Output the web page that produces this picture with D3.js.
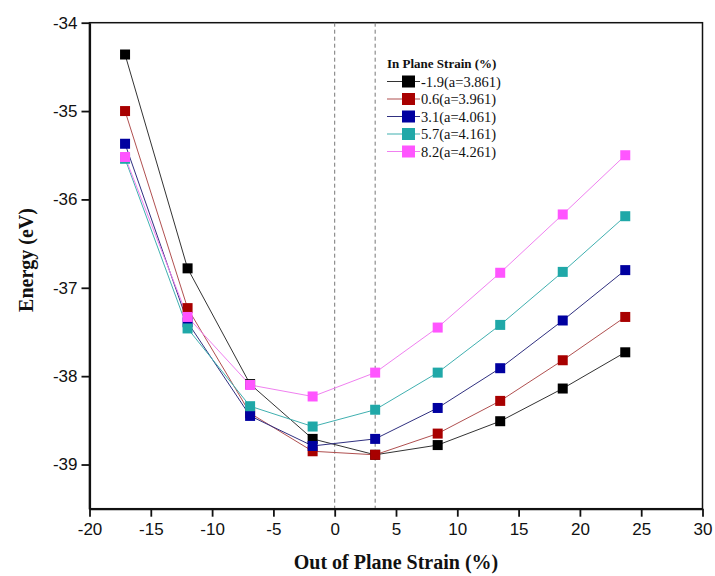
<!DOCTYPE html>
<html><head><meta charset="utf-8">
<script src="https://cdn.jsdelivr.net/npm/d3@7"></script>
<style>body{margin:0;background:#fff}svg{display:block}</style>
</head><body>
<svg id="c" width="715" height="576"></svg>
<script>
const xValues = [-17.1, -12, -6.9, -1.8, 3.3, 8.4, 13.5, 18.6, 23.7];
const seriesNames = ["-1.9(a=3.861)", "0.6(a=3.961)", "3.1(a=4.061)", "5.7(a=4.161)", "8.2(a=4.261)"];
const seriesColors = ["#000000", "#a80000", "#0000a0", "#20a8a8", "#ff55ff"];
const lineColors = ["#333333", "#b05050", "#303080", "#40b0b0", "#f080f0"];
const s1 = [-34.36, -36.78, -38.09, -38.71, -38.89, -38.78, -38.51, -38.14, -37.73];
const s2 = [-35.00, -37.23, -38.42, -38.85, -38.89, -38.65, -38.28, -37.82, -37.33];
const s3 = [-35.37, -37.39, -38.45, -38.79, -38.71, -38.36, -37.91, -37.37, -36.80];
const s4 = [-35.54, -37.46, -38.34, -38.57, -38.38, -37.96, -37.42, -36.82, -36.19];
const s5 = [-35.52, -37.33, -38.10, -38.23, -37.96, -37.45, -36.83, -36.17, -35.50];
const seriesValues = [s1, s2, s3, s4, s5];
const xTicks = [-20, -15, -10, -5, 0, 5, 10, 15, 20, 25, 30];
const yTicks = [-34, -35, -36, -37, -38, -39];
const dashedX = [0, 3.3];

const svg = d3.select("#c");
const L = 89.5, R = 702.5, T = 22.7, B = 508.7;
const x = d3.scaleLinear().domain([-20, 30]).range([L, R]);
const y = d3.scaleLinear().domain([-39.5, -34]).range([B, T]);

// frame
svg.append("rect").attr("x", L).attr("y", T).attr("width", R - L).attr("height", B - T)
  .attr("fill", "none").attr("stroke", "#111").attr("stroke-width", 1.5);

// dashed lines
svg.selectAll(".dash").data(dashedX).enter().append("line")
  .attr("x1", d => x(d)).attr("x2", d => x(d)).attr("y1", T).attr("y2", B)
  .attr("stroke", "#777").attr("stroke-width", 1).attr("stroke-dasharray", "4,3");

// axes
const fmt = d => String(d);
const xAxis = svg.append("g").attr("transform", `translate(0,${B})`)
  .call(d3.axisBottom(x).tickValues(xTicks).tickFormat(fmt).tickSize(8).tickSizeOuter(0).tickPadding(6));
const yAxis = svg.append("g").attr("transform", `translate(${L},0)`)
  .call(d3.axisLeft(y).tickValues(yTicks).tickFormat(fmt).tickSize(8).tickSizeOuter(0).tickPadding(4));
[xAxis, yAxis].forEach(a => {
  a.select(".domain").attr("stroke", "#111").attr("stroke-width", 2.2);
  a.selectAll(".tick line").attr("stroke", "#111").attr("stroke-width", 1.8);
  a.selectAll(".tick text").attr("font-family", "Liberation Sans, Arial, sans-serif")
    .attr("font-size", 17).attr("fill", "#111");
});

// lines and markers
const line = d3.line().x((d, i) => x(xValues[i])).y(d => y(d));
seriesValues.forEach((vals, k) => {
  svg.append("path").datum(vals).attr("d", line).attr("fill", "none")
    .attr("stroke", lineColors[k]).attr("stroke-width", 1);
});
seriesValues.forEach((vals, k) => {
  svg.selectAll(".m" + k).data(vals).enter().append("rect")
    .attr("x", (d, i) => x(xValues[i]) - 5).attr("y", d => y(d) - 5)
    .attr("width", 10).attr("height", 10).attr("fill", seriesColors[k]);
});

// axis titles
svg.append("text").attr("x", (L + R) / 2).attr("y", 569).attr("text-anchor", "middle")
  .attr("font-family", "Liberation Serif, Times New Roman, serif").attr("font-weight", "bold")
  .attr("font-size", 20).attr("fill", "#111").text("Out of Plane Strain (%)");
svg.append("text").attr("transform", "translate(33,260) rotate(-90)").attr("text-anchor", "middle")
  .attr("font-family", "Liberation Serif, Times New Roman, serif").attr("font-weight", "bold")
  .attr("font-size", 20).attr("fill", "#111").text("Energy (eV)");

// legend
const lg = svg.append("g");
lg.append("text").attr("x", 387).attr("y", 68).attr("font-family", "Liberation Serif, Times New Roman, serif")
  .attr("font-weight", "bold").attr("font-size", 13).attr("fill", "#111").text("In Plane Strain (%)");
seriesNames.forEach((n, k) => {
  const yy = 81.5 + k * 17.5;
  lg.append("line").attr("x1", 387).attr("x2", 420).attr("y1", yy).attr("y2", yy)
    .attr("stroke", lineColors[k]).attr("stroke-width", 1.2);
  lg.append("rect").attr("x", 402).attr("y", yy - 6).attr("width", 13).attr("height", 12)
    .attr("fill", seriesColors[k]);
  lg.append("text").attr("x", 421).attr("y", yy + 5).attr("font-family", "Liberation Serif, Times New Roman, serif")
    .attr("font-size", 14.5).attr("fill", "#111").text(n);
});
</script>
</body></html>
